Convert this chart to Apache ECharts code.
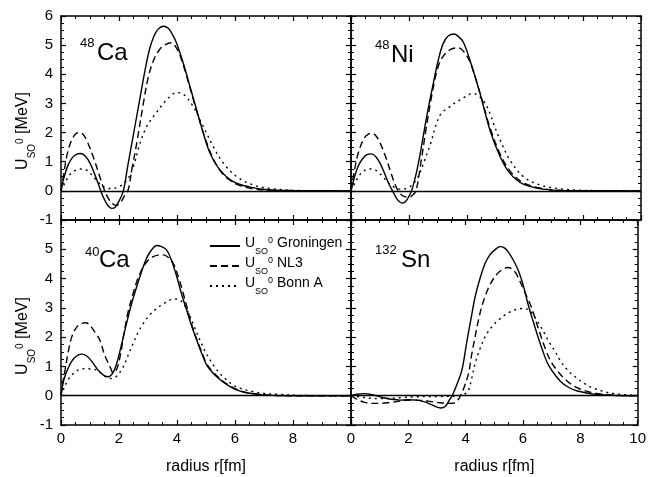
<!DOCTYPE html>
<html><head><meta charset="utf-8">
<script src="https://cdn.jsdelivr.net/npm/echarts@6/dist/echarts.min.js"></script>
<style>html,body{margin:0;padding:0;background:#fff}#c{width:649px;height:477px}</style>
</head><body><div id="c"></div>
<script>
// ---- data: [radius r (fm), U_SO^0 (MeV)] ----
const modelNames = ['Groningen', 'NL3', 'Bonn A'];
const panelLabels = [['48', 'Ca'], ['48', 'Ni'], ['40', 'Ca'], ['132', 'Sn']];

const ca48Groningen = [[0,0],[0.1,0.45],[0.25,0.9],[0.4,1.15],[0.55,1.26],[0.68,1.28],[0.85,1.18],[1.0,0.95],[1.15,0.6],[1.3,0.2],[1.45,-0.2],[1.6,-0.48],[1.75,-0.6],[1.85,-0.58],[2.0,-0.35],[2.15,0.0],[2.3,0.85],[2.5,1.95],[2.7,3.05],[2.9,4.15],[3.05,4.85],[3.2,5.3],[3.35,5.55],[3.53,5.65],[3.7,5.58],[3.85,5.35],[3.99,5.06],[4.22,4.37],[4.45,3.57],[4.68,2.77],[4.91,1.97],[5.14,1.29],[5.48,0.72],[5.94,0.32],[6.52,0.13],[7.1,0.04],[8,0.01],[10,0]];
const ca48NL3 = [[0,0],[0.1,0.6],[0.2,1.2],[0.35,1.7],[0.5,1.95],[0.62,2.0],[0.75,1.95],[0.9,1.7],[1.1,1.2],[1.3,0.6],[1.45,0.15],[1.6,-0.2],[1.75,-0.42],[1.9,-0.5],[2.05,-0.4],[2.2,-0.15],[2.32,0.05],[2.44,0.72],[2.61,1.63],[2.84,3.0],[3.01,3.9],[3.2,4.5],[3.4,4.85],[3.6,5.02],[3.8,5.08],[3.95,4.95],[4.1,4.65],[4.3,4.05],[4.5,3.35],[4.75,2.5],[5.0,1.72],[5.25,1.1],[5.5,0.68],[5.8,0.38],[6.2,0.17],[6.7,0.06],[7.5,0.01],[10,0]];
const ca48BonnA = [[0,0],[0.15,0.3],[0.3,0.55],[0.5,0.7],[0.7,0.75],[0.9,0.7],[1.1,0.5],[1.3,0.28],[1.5,0.12],[1.7,0.08],[1.9,0.1],[2.1,0.2],[2.3,0.4],[2.5,0.85],[2.7,1.55],[2.95,2.2],[3.3,2.7],[3.64,3.12],[3.99,3.37],[4.22,3.32],[4.56,2.89],[4.91,2.2],[5.25,1.52],[5.6,0.95],[6.06,0.49],[6.63,0.2],[7.3,0.07],[8.24,0.01],[10,0]];

const ni48Groningen = [[0,0],[0.1,0.4],[0.25,0.85],[0.4,1.1],[0.55,1.24],[0.71,1.27],[0.85,1.18],[1.0,0.95],[1.15,0.62],[1.3,0.25],[1.46,-0.05],[1.6,-0.3],[1.78,-0.42],[1.9,-0.35],[2.0,-0.18],[2.09,0.0],[2.25,0.6],[2.4,1.35],[2.61,2.55],[2.84,3.7],[3.01,4.49],[3.18,5.06],[3.36,5.32],[3.55,5.38],[3.7,5.3],[3.87,5.11],[4.1,4.49],[4.45,3.34],[4.79,2.09],[5.14,1.18],[5.48,0.6],[5.94,0.23],[6.63,0.06],[7.32,0.01],[10,0]];
const ni48NL3 = [[0,0],[0.1,0.6],[0.25,1.3],[0.45,1.8],[0.6,1.95],[0.72,1.97],[0.85,1.9],[1.0,1.65],[1.2,1.15],[1.4,0.55],[1.55,0.15],[1.7,-0.1],[1.85,-0.2],[2.0,-0.22],[2.12,-0.15],[2.24,0.0],[2.4,0.9],[2.6,2.2],[2.8,3.35],[3.0,4.25],[3.2,4.65],[3.45,4.86],[3.7,4.91],[3.95,4.7],[4.15,4.3],[4.45,3.35],[4.8,2.15],[5.15,1.25],[5.5,0.66],[5.95,0.27],[6.6,0.08],[7.4,0.01],[10,0]];
const ni48BonnA = [[0,0],[0.15,0.3],[0.3,0.55],[0.5,0.72],[0.7,0.75],[0.9,0.68],[1.1,0.48],[1.3,0.27],[1.5,0.12],[1.7,0.06],[1.9,0.08],[2.1,0.2],[2.3,0.45],[2.5,0.95],[2.72,1.55],[3.07,2.6],[3.41,2.89],[3.76,3.12],[4.22,3.34],[4.56,3.1],[4.79,2.66],[4.91,2.32],[5.14,1.75],[5.48,1.06],[5.94,0.49],[6.52,0.2],[7.32,0.06],[8.3,0.01],[10,0]];

const ca40Groningen = [[0,0],[0.1,0.55],[0.25,0.95],[0.45,1.28],[0.71,1.42],[0.9,1.35],[1.1,1.12],[1.3,0.85],[1.5,0.68],[1.63,0.65],[1.8,0.8],[1.92,1.1],[2.1,1.8],[2.26,2.47],[2.45,3.2],[2.61,3.72],[2.8,4.3],[2.95,4.69],[3.1,4.95],[3.3,5.13],[3.45,5.1],[3.64,4.98],[3.8,4.65],[3.99,4.07],[4.15,3.5],[4.33,2.93],[4.5,2.4],[4.68,1.9],[4.85,1.45],[5.02,1.05],[5.2,0.82],[5.37,0.65],[5.6,0.46],[5.83,0.31],[6.1,0.18],[6.4,0.1],[7.1,0.02],[8,0],[10,0]];
const ca40NL3 = [[0,0],[0.07,0.5],[0.14,0.88],[0.25,1.5],[0.37,2.0],[0.55,2.35],[0.75,2.48],[0.86,2.49],[1.0,2.4],[1.15,2.2],[1.34,1.9],[1.5,1.4],[1.69,0.99],[1.8,0.78],[1.92,0.9],[2.05,1.4],[2.15,2.0],[2.3,2.8],[2.49,3.5],[2.65,4.0],[2.84,4.4],[3.0,4.62],[3.18,4.75],[3.35,4.8],[3.53,4.81],[3.7,4.72],[3.87,4.52],[4.05,4.05],[4.2,3.55],[4.35,3.0],[4.5,2.45],[4.68,1.93],[4.85,1.5],[5.02,1.1],[5.2,0.85],[5.37,0.68],[5.6,0.48],[5.85,0.32],[6.15,0.18],[6.5,0.09],[7.2,0.02],[8,0],[10,0]];
const ca40BonnA = [[0,0],[0.1,0.25],[0.25,0.55],[0.45,0.78],[0.65,0.9],[0.9,0.92],[1.1,0.9],[1.23,0.88],[1.4,0.75],[1.55,0.64],[1.7,0.59],[1.9,0.65],[2.15,0.99],[2.3,1.35],[2.49,1.79],[2.65,2.15],[2.84,2.47],[3.05,2.75],[3.3,2.98],[3.55,3.15],[3.76,3.27],[3.95,3.3],[4.1,3.27],[4.25,3.1],[4.45,2.7],[4.6,2.35],[4.79,1.9],[4.95,1.55],[5.14,1.22],[5.3,0.98],[5.48,0.76],[5.7,0.55],[5.94,0.36],[6.25,0.23],[6.63,0.14],[7.0,0.08],[7.44,0.05],[8.2,0.01],[10,0]];

const sn132Groningen = [[0,0],[0.2,0.05],[0.48,0.07],[0.8,0.02],[1.1,-0.06],[1.4,-0.12],[1.7,-0.15],[2.0,-0.14],[2.3,-0.15],[2.6,-0.22],[2.9,-0.35],[3.13,-0.42],[3.3,-0.35],[3.45,-0.12],[3.53,0.0],[3.7,0.4],[3.87,0.88],[4.05,1.9],[4.2,2.7],[4.33,3.38],[4.5,4.0],[4.68,4.52],[4.85,4.82],[5.02,4.98],[5.2,5.09],[5.35,5.05],[5.48,4.92],[5.65,4.65],[5.83,4.29],[6.0,3.8],[6.17,3.15],[6.35,2.55],[6.52,2.02],[6.7,1.5],[6.86,1.1],[7.05,0.8],[7.32,0.48],[7.6,0.28],[7.9,0.16],[8.47,0.05],[9.0,0.02],[9.62,0],[10,0]];
const sn132NL3 = [[0,0],[0.2,-0.12],[0.45,-0.22],[0.7,-0.26],[1.0,-0.26],[1.3,-0.24],[1.6,-0.2],[1.9,-0.16],[2.15,-0.15],[2.5,-0.16],[2.8,-0.2],[3.1,-0.24],[3.4,-0.26],[3.64,-0.24],[3.75,-0.12],[3.82,0],[3.95,0.3],[4.1,0.76],[4.2,1.35],[4.33,2.02],[4.45,2.6],[4.56,3.04],[4.68,3.4],[4.79,3.67],[5.02,4.07],[5.25,4.29],[5.48,4.38],[5.71,4.24],[5.85,4.0],[6.0,3.67],[6.15,3.35],[6.29,3.04],[6.45,2.55],[6.63,2.02],[6.8,1.55],[6.98,1.16],[7.2,0.85],[7.44,0.59],[7.7,0.38],[8.01,0.22],[8.35,0.12],[8.7,0.06],[9.3,0.01],[10,0]];
const sn132BonnA = [[0,0],[0.3,-0.04],[0.6,-0.08],[1.0,-0.1],[1.4,-0.09],[1.8,-0.06],[2.2,-0.04],[2.6,-0.03],[3.0,-0.03],[3.4,-0.02],[3.7,-0.01],[3.9,0.02],[4.0,0.08],[4.1,0.19],[4.2,0.55],[4.33,1.1],[4.5,1.6],[4.68,2.02],[4.85,2.27],[5.02,2.47],[5.2,2.63],[5.37,2.76],[5.55,2.86],[5.71,2.93],[5.9,2.97],[6.06,2.98],[6.25,2.88],[6.4,2.7],[6.58,2.42],[6.75,2.13],[6.9,1.85],[7.09,1.56],[7.3,1.2],[7.55,0.88],[7.85,0.62],[8.13,0.42],[8.45,0.26],[8.82,0.14],[9.2,0.07],[9.62,0.03],[10,0.01]];

const panelData = [
  [ca48Groningen, ca48NL3, ca48BonnA],
  [ni48Groningen, ni48NL3, ni48BonnA],
  [ca40Groningen, ca40NL3, ca40BonnA],
  [sn132Groningen, sn132NL3, sn132BonnA]
];

// ---- presentation ----
const FONT = '"Liberation Sans", Arial, Helvetica, sans-serif';
const lineTypes = ['solid', [7, 4], [2, 4]];
const grids = [
  {left: 61, top: 16, width: 290, height: 204},
  {left: 351, top: 16, width: 290, height: 204},
  {left: 61, top: 220, width: 290, height: 205},
  {left: 351, top: 220, width: 290, height: 205}
];
const axisLine = {onZero: false, lineStyle: {color: '#000', width: 1.5}};
const axisTick = {inside: true, length: 5, lineStyle: {color: '#000', width: 1.2}};
const minorTickX = {show: true, splitNumber: 4, length: 3, lineStyle: {color: '#000', width: 1}};
const minorTickY = {show: true, splitNumber: 4, length: 3, lineStyle: {color: '#000', width: 1}};
const labelStyle = {color: '#000', fontSize: 15, fontFamily: FONT};

const xAxes = [], yAxes = [], series = [];
grids.forEach((g, p) => {
  const bottomRow = p >= 2;
  xAxes.push({
    gridIndex: p, type: 'value', min: 0, max: 10, interval: 2, position: 'bottom',
    axisLine, axisTick, minorTick: minorTickX, splitLine: {show: false},
    axisLabel: Object.assign({show: bottomRow, margin: 6, showMaxLabel: p === 3, showMinLabel: true}, labelStyle),
    name: bottomRow ? 'radius r[fm]' : '', nameLocation: 'middle', nameGap: 34,
    nameTextStyle: {color: '#000', fontSize: 16, fontFamily: FONT}
  });
  xAxes.push({
    gridIndex: p, type: 'value', min: 0, max: 10, interval: 2, position: 'top',
    axisLine, axisTick, minorTick: minorTickX, splitLine: {show: false}, axisLabel: {show: false}
  });
  const leftCol = p % 2 === 0;
  yAxes.push({
    gridIndex: p, type: 'value', min: -1, max: 6, interval: 1, position: 'left',
    axisLine, axisTick, minorTick: minorTickY, splitLine: {show: false},
    axisLabel: Object.assign({show: leftCol, margin: 8, showMaxLabel: p === 0, showMinLabel: true}, labelStyle)
  });
  yAxes.push({
    gridIndex: p, type: 'value', min: -1, max: 6, interval: 1, position: 'right',
    axisLine, axisTick, minorTick: minorTickY, splitLine: {show: false}, axisLabel: {show: false}
  });
  panelData[p].forEach((d, k) => {
    const s = {
      type: 'line', name: modelNames[k], xAxisIndex: 2 * p, yAxisIndex: 2 * p,
      data: d, smooth: 0.35, symbol: 'none', showSymbol: false, animation: false,
      lineStyle: {color: '#000', width: 1.4, type: lineTypes[k]},
      itemStyle: {color: '#000'}, z: 3
    };
    if (k === 0) {
      s.markLine = {
        silent: true, symbol: ['none', 'none'], label: {show: false}, animation: false,
        lineStyle: {color: '#000', width: 1.3, type: 'solid'},
        data: [{yAxis: 0}]
      };
    }
    series.push(s);
  });
});

const richLegend = {
  u: {fontSize: 14, lineHeight: 20, verticalAlign: 'top', fontFamily: FONT, color: '#000'},
  s: {fontSize: 9, lineHeight: 9, verticalAlign: 'bottom', fontFamily: FONT, color: '#000'},
  p: {fontSize: 9, lineHeight: 16, verticalAlign: 'top', fontFamily: FONT, color: '#000'},
  t: {fontSize: 14, lineHeight: 20, verticalAlign: 'top', fontFamily: FONT, color: '#000'}
};
const richAxis = {
  u: {fontSize: 16, lineHeight: 22, verticalAlign: 'top', fontFamily: FONT, fill: '#000'},
  s: {fontSize: 10, lineHeight: 10, verticalAlign: 'bottom', fontFamily: FONT, fill: '#000'},
  p: {fontSize: 10, lineHeight: 17, verticalAlign: 'top', fontFamily: FONT, fill: '#000'},
  t: {fontSize: 16, lineHeight: 22, verticalAlign: 'top', fontFamily: FONT, fill: '#000'}
};
// [supX, supCenterY, mainX, mainCenterY]
const panelLabelPos = [[80, 43, 97, 53.5], [375, 45, 391, 55], [85, 252, 99, 260.5], [375, 250.5, 401, 260]];
const graphic = [];
panelLabels.forEach((lab, i) => {
  const pos = panelLabelPos[i];
  graphic.push({
    type: 'text', x: pos[0], y: pos[1], silent: true,
    style: {text: lab[0], fontSize: 13, fontFamily: FONT, fill: '#000', align: 'left', verticalAlign: 'middle'}
  });
  graphic.push({
    type: 'text', x: pos[2], y: pos[3], silent: true,
    style: {text: lab[1], fontSize: 24, fontFamily: FONT, fill: '#000', align: 'left', verticalAlign: 'middle'}
  });
});
[131, 336].forEach(cy => {
  graphic.push({
    type: 'text', x: 26, y: cy, rotation: Math.PI / 2, silent: true,
    style: {text: '{u|U}{s|SO}{p|0}{t| [MeV]}', rich: richAxis, align: 'center', verticalAlign: 'middle'}
  });
});

const chart = echarts.init(document.getElementById('c'), null, {renderer: 'canvas'});
chart.setOption({
  backgroundColor: '#fff',
  animation: false,
  grid: grids,
  xAxis: xAxes,
  yAxis: yAxes,
  series,
  legend: {
    data: modelNames, orient: 'vertical', left: 209, top: 236, padding: 0,
    itemWidth: 30, itemHeight: 10, itemGap: 0, selectedMode: false,
    itemStyle: {opacity: 0},
    formatter: n => '{u|U}{s|SO}{p|0}{t| ' + n + '}',
    textStyle: {color: '#000', fontFamily: FONT, rich: richLegend}
  },
  graphic
});
</script>
</body></html>
